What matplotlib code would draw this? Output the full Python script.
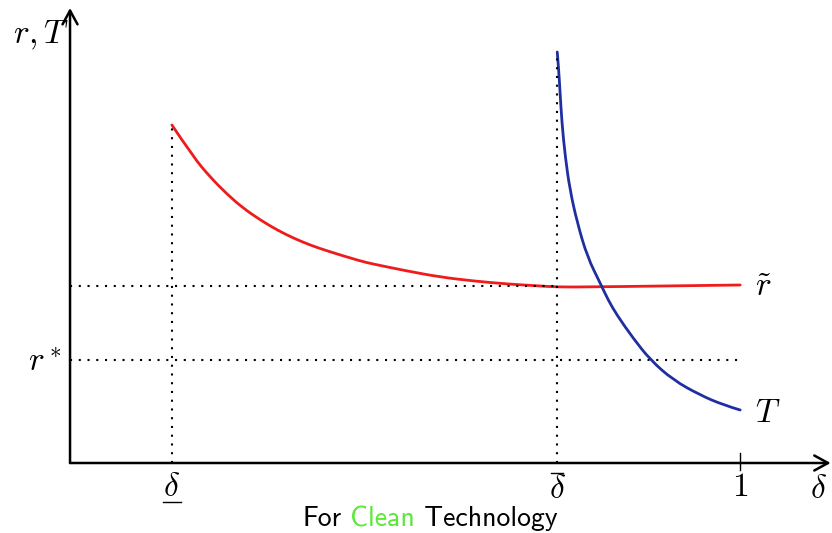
import numpy as np
import matplotlib.pyplot as plt
from matplotlib.path import Path
from matplotlib.patches import PathPatch

plt.rcParams['mathtext.fontset'] = 'cm'

# key positions on the delta axis and on the r,T axis
d_low = 0.152
d_bar = 0.727
r_star = 1.03
r_tilde = 1.77

# red curve r~(delta)
red_x = [0.152, 0.184, 0.209, 0.234, 0.258, 0.284, 0.309, 0.333, 0.358, 0.384, 0.433,
         0.452, 0.503, 0.552, 0.602, 0.652, 0.702, 0.727, 0.776, 1.0]
red_y = [3.38, 3.06, 2.86, 2.69, 2.55, 2.43, 2.33, 2.25, 2.18, 2.12, 2.02,
         1.99, 1.92, 1.86, 1.82, 1.79, 1.77, 1.76, 1.76, 1.78]

# blue curve T(delta)
blue_x = [0.727, 0.729, 0.731, 0.734, 0.739, 0.746, 0.757, 0.772, 0.791, 0.803,
          0.816, 0.840, 0.866, 0.900, 0.940, 0.975, 1.0]
blue_y = [4.11, 3.95, 3.73, 3.40, 3.06, 2.73, 2.40, 2.06, 1.80, 1.63,
          1.48, 1.25, 1.03, 0.83, 0.68, 0.58, 0.53]


def smooth_curve(ax, xs, ys, color):
    # quadratic bezier through midpoints, read points used as control points
    pts = np.column_stack([xs, ys])
    verts = [pts[0]]
    codes = [Path.MOVETO]
    for i in range(1, len(pts) - 1):
        mid = (pts[i] + pts[i + 1]) / 2 if i < len(pts) - 2 else pts[i + 1]
        verts += [pts[i], mid]
        codes += [Path.CURVE3, Path.CURVE3]
    ax.add_patch(PathPatch(Path(verts, codes), facecolor='none', edgecolor=color,
                           lw=2, capstyle='round'))


fig = plt.figure(figsize=(8.32, 5.33), dpi=100)
ax = fig.add_axes([0, 0, 1, 1])
ax.set_xlim(-0.1045, 1.137)
ax.set_ylim(-0.70, 4.63)
ax.axis('off')

# axes with arrows
arrow = dict(arrowstyle='->,head_length=0.55,head_width=0.3', color='black', lw=1.8,
             mutation_scale=18, shrinkA=0, shrinkB=0)
ax.annotate('', xy=(1.135, 0), xytext=(0, 0), arrowprops=arrow)
ax.annotate('', xy=(0, 4.55), xytext=(0, 0), arrowprops=arrow)
ax.plot([1.0, 1.0], [-0.07, 0.10], color='black', lw=1)

# dotted guides
dot = dict(color='black', lw=1.5, linestyle=(0, (1, 3.2)))
ax.plot([0, d_bar], [r_tilde, r_tilde], **dot)
ax.plot([0, 1.0], [r_star, r_star], **dot)
ax.plot([d_low, d_low], [0, red_y[0]], **dot)
ax.plot([d_bar, d_bar], [0, blue_y[0]], **dot)

# curves
smooth_curve(ax, red_x, red_y, '#ee1c1c')
smooth_curve(ax, blue_x, blue_y, '#1f2fa0')

# labels
fs = 24
ax.text(-0.044, 4.28, r'$r,T$', fontsize=fs, ha='center', va='center')
ax.text(-0.038, 1.01, r'$r^*$', fontsize=fs, ha='center', va='center')
ax.text(1.022, r_tilde, r'$\tilde{r}$', fontsize=fs, ha='left', va='center')
ax.text(1.022, 0.50, r'$T$', fontsize=fs, ha='left', va='center')
ax.text(d_low, -0.23, r'$\delta$', fontsize=fs, ha='center', va='center')
ax.plot([d_low - 0.014, d_low + 0.014], [-0.385, -0.385], color='black', lw=1)
ax.text(d_bar, -0.255, r'$\delta$', fontsize=fs, ha='center', va='center')
ax.plot([d_bar - 0.009, d_bar + 0.009], [-0.095, -0.095], color='black', lw=1)
ax.text(1.0, -0.24, r'$1$', fontsize=fs, ha='center', va='center')
ax.text(1.117, -0.25, r'$\delta$', fontsize=fs, ha='center', va='center')

# caption with coloured word
cap = dict(fontsize=20, family='cmss10', va='bottom', ha='left')
t1 = fig.text(0.363, 0.003, 'For', color='black', **cap)
t2 = ax.annotate(' Clean', xy=(1, 0), xycoords=t1, color='#5ce83a', **cap)
t3 = ax.annotate(' Technology', xy=(1, 0), xycoords=t2, color='black', **cap)

fig.savefig('out.png', dpi=100)
